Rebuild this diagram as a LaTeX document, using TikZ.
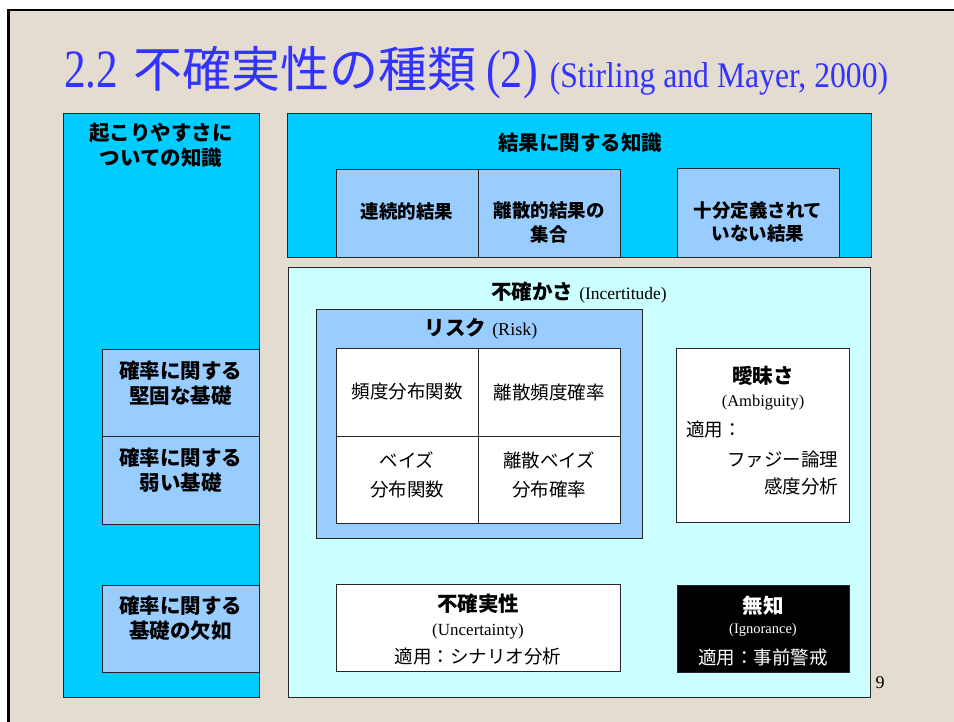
\documentclass[tikz,border=0pt]{standalone}
\usepackage{fontspec}
\setmainfont{Liberation Serif}
\newfontfamily\jp{Noto Sans CJK JP}
\definecolor{bgpaper}{RGB}{228,220,208}
\definecolor{cyanbox}{RGB}{0,204,255}
\definecolor{lblue}{RGB}{153,204,255}
\definecolor{lcyan}{RGB}{204,255,255}
\definecolor{titleblue}{RGB}{51,51,255}
\newcommand\jpB{\jp\bfseries\fontsize{20.5}{25}\selectfont}
\newcommand\jpM{\jp\bfseries\fontsize{18.5}{23.5}\selectfont}
\newcommand\jpR{\jp\fontsize{18.5}{29}\selectfont}
\newcommand\latS[1]{\fontsize{#1}{#1}\selectfont}
\begin{document}
\begin{tikzpicture}[x=1pt,y=-1pt,
  box/.style={draw=black!85, line width=0.9pt, inner sep=0pt, outer sep=0pt},
  lbl/.style={inner sep=0pt, outer sep=0pt, align=center},
  tb/.style={lbl, font=\jpB},
  tm/.style={lbl, font=\jpM},
  tr/.style={lbl, font=\jpR},
]
\useasboundingbox (0,0) rectangle (954,722);
\fill[white] (0,0) rectangle (954,722);
\fill[bgpaper] (8,10) rectangle (954,722);
\draw[line width=2.5pt] (8.5,722) -- (8.5,10) -- (954,10);

% title
\node[anchor=base west, inner sep=0pt, text=titleblue] (title) at (64,88)
  {\scalebox{0.8}[1]{\latS{54}2.2}\hspace{15pt}{\jp\fontsize{49}{55}\selectfont 不確実性の種類}\hspace{10pt}\scalebox{0.82}[1]{\latS{54}(2)}\hspace{12pt}\scalebox{0.88}[1]{\latS{36}(Stirling and Mayer, 2000)}};

% left column
\node[box, fill=cyanbox, minimum width=196, minimum height=584] (left) at (161,405) {};
\node[tb] (lefttxt) at (161,145.5) {起こりやすさに\\ついての知識};
\node[box, fill=lblue, minimum width=157, minimum height=87] (firm) at (180.5,392.5) {};
\node[box, fill=lblue, minimum width=157, minimum height=88] (weak) at (180.5,480) {};
\node[box, fill=lblue, minimum width=157, minimum height=87] (lack) at (180.5,628.5) {};
\node[tb] (firmtxt) at (180.5,383) {確率に関する\\堅固な基礎};
\node[tb] (weaktxt) at (180.5,470.5) {確率に関する\\弱い基礎};
\node[tb] (lacktxt) at (180.5,618) {確率に関する\\基礎の欠如};

% top right
\node[box, fill=cyanbox, minimum width=584, minimum height=144] (outc) at (579,185) {};
\node[tb] (outctxt) at (580,143) {結果に関する知識};
\node[box, fill=lblue, minimum width=142, minimum height=88] (cont) at (407,213) {};
\node[box, fill=lblue, minimum width=142, minimum height=88] (disc) at (549,213) {};
\node[box, fill=lblue, minimum width=162, minimum height=89] (undef) at (758,212.5) {};
\node[tm] (conttxt) at (407,211) {連続的結果};
\node[tm] (disctxt) at (549,222.5) {離散的結果の\\集合};
\node[tm] (undeftxt) at (758,222) {十分定義されて\\いない結果};

% incertitude
\node[box, fill=lcyan, minimum width=582, minimum height=430] (incert) at (579,482) {};
\node[anchor=base, inner sep=0pt] (incerttxt) at (579,300) {{\jpB 不確かさ}\hspace{6pt}{\latS{17.5}(Incertitude)}};

% risk
\node[box, fill=lblue, minimum width=326, minimum height=229] (risk) at (479,423.5) {};
\node[anchor=base, inner sep=0pt] (risktxt) at (481,336) {{\jpB リスク}\hspace{6pt}{\latS{18}(Risk)}};
\node[box, fill=white, minimum width=142, minimum height=88] (c11) at (407,392) {};
\node[box, fill=white, minimum width=142, minimum height=88] (c12) at (549,392) {};
\node[box, fill=white, minimum width=142, minimum height=87] (c21) at (407,479.5) {};
\node[box, fill=white, minimum width=142, minimum height=87] (c22) at (549,479.5) {};
\node[tr] (c11txt) at (407,392) {頻度分布関数};
\node[tr] (c12txt) at (549,392) {離散頻度確率};
\node[tr] (c21txt) at (407,474.5) {ベイズ\\分布関数};
\node[tr] (c22txt) at (549,474.5) {離散ベイズ\\分布確率};

% ambiguity
\node[box, fill=white, minimum width=173, minimum height=174] (ambig) at (762.5,435) {};
\node[tb] (ambigt) at (763,376) {曖昧さ};
\node[lbl] (ambige) at (763,403) {\latS{16.5}(Ambiguity)};
\node[tr, anchor=west] (ambiga) at (686,430) {適用：};
\node[tr, anchor=east] (ambigf) at (838,459) {ファジー論理};
\node[tr, anchor=east] (ambigs) at (838,486) {感度分析};

% uncertainty
\node[box, fill=white, minimum width=284, minimum height=87] (uncert) at (478,627.5) {};
\node[tb] (uncertt) at (478,604) {不確実性};
\node[lbl] (uncerte) at (478,631) {\latS{17}(Uncertainty)};
\node[tr] (uncerta) at (478,657) {適用：シナリオ分析};

% ignorance
\node[box, fill=black, minimum width=172, minimum height=87] (ignor) at (763,628.5) {};
\node[tb, text=white] (ignort) at (763,606) {無知};
\node[lbl, text=white] (ignore) at (763,630) {\latS{14.5}(Ignorance)};
\node[tr, text=white] (ignora) at (763,657) {適用：事前警戒};

% page number
\node[lbl] (pagenum) at (880,683) {\latS{18}9};
\end{tikzpicture}
\end{document}
